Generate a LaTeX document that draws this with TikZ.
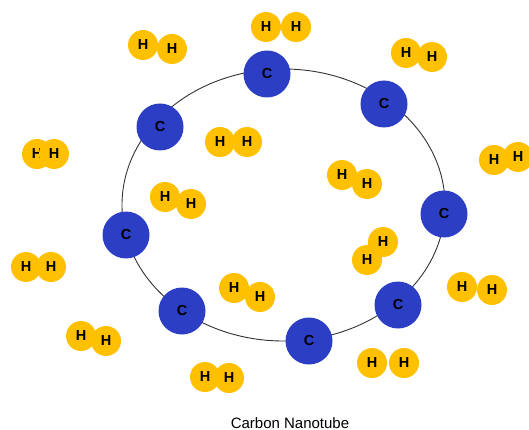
\documentclass[tikz,border=0pt]{standalone}
\usepackage{fontspec}
\setmainfont{Liberation Sans}
\definecolor{cblue}{RGB}{44,62,196}
\definecolor{hgold}{RGB}{255,192,0}
\begin{document}
\begin{tikzpicture}[x=1pt,y=-1pt,
  carbon/.style={circle,fill=cblue,minimum size=47pt,inner sep=0pt,text=black,font=\fontsize{14.5}{14.5}\selectfont\bfseries},
  hyd/.style={circle,fill=hgold,minimum size=30pt,inner sep=0pt,text=black,font=\fontsize{14.5}{14.5}\selectfont\bfseries},
  tube/.style={draw=black!80,line width=0.9pt},
  caption/.style={anchor=base,font=\fontsize{15}{15}\selectfont}]
\useasboundingbox (0,0) rectangle (529,430);
% nanotube ring
\draw[tube] (283.5,205) ellipse [x radius=161.5, y radius=136];
% carbon atoms
\node[carbon] (c1) at (267,74) {C};
\node[carbon] (c2) at (384,104) {C};
\node[carbon] (c3) at (444,214) {C};
\node[carbon] (c4) at (398,305) {C};
\node[carbon] (c5) at (309,341) {C};
\node[carbon] (c6) at (182,311) {C};
\node[carbon] (c7) at (126,235) {C};
\node[carbon] (c8) at (160,127) {C};
% hydrogen molecules
\node[hyd] (h1a) at (143,45) {H};   \node[hyd] (h1b) at (172,49) {H};
\node[hyd] (h2a) at (266,27) {H};   \node[hyd] (h2b) at (296,27) {H};
\node[hyd] (h3a) at (406,53) {H};   \node[hyd] (h3b) at (432,57) {H};
\node[hyd] (h4a) at (494,160) {H};  \node[hyd] (h4b) at (518,157) {H};
\node[hyd] (h5a) at (37,154) {H};   \node[hyd] (h5b) at (54,154) {H};
\node[hyd] (h6a) at (220,142) {H};  \node[hyd] (h6b) at (247,142) {H};
\node[hyd] (h7a) at (165,197) {H};  \node[hyd] (h7b) at (191,204) {H};
\node[hyd] (h8a) at (342,175) {H};  \node[hyd] (h8b) at (367,184) {H};
\node[hyd] (h9b) at (383,242) {H};  \node[hyd] (h9a) at (367,260) {H};
\node[hyd] (h10a) at (462,287) {H}; \node[hyd] (h10b) at (492,290) {H};
\node[hyd] (h11a) at (372,363) {H}; \node[hyd] (h11b) at (404,363) {H};
\node[hyd] (h12a) at (205,377) {H}; \node[hyd] (h12b) at (229,378) {H};
\node[hyd] (h13a) at (81,336) {H};  \node[hyd] (h13b) at (106,341) {H};
\node[hyd] (h14a) at (26,267) {H};  \node[hyd] (h14b) at (51,267) {H};
\node[hyd] (h15a) at (234,288) {H}; \node[hyd] (h15b) at (260,297) {H};
% caption
\node[caption] (cap) at (290,428) {Carbon Nanotube};
\end{tikzpicture}
\end{document}
